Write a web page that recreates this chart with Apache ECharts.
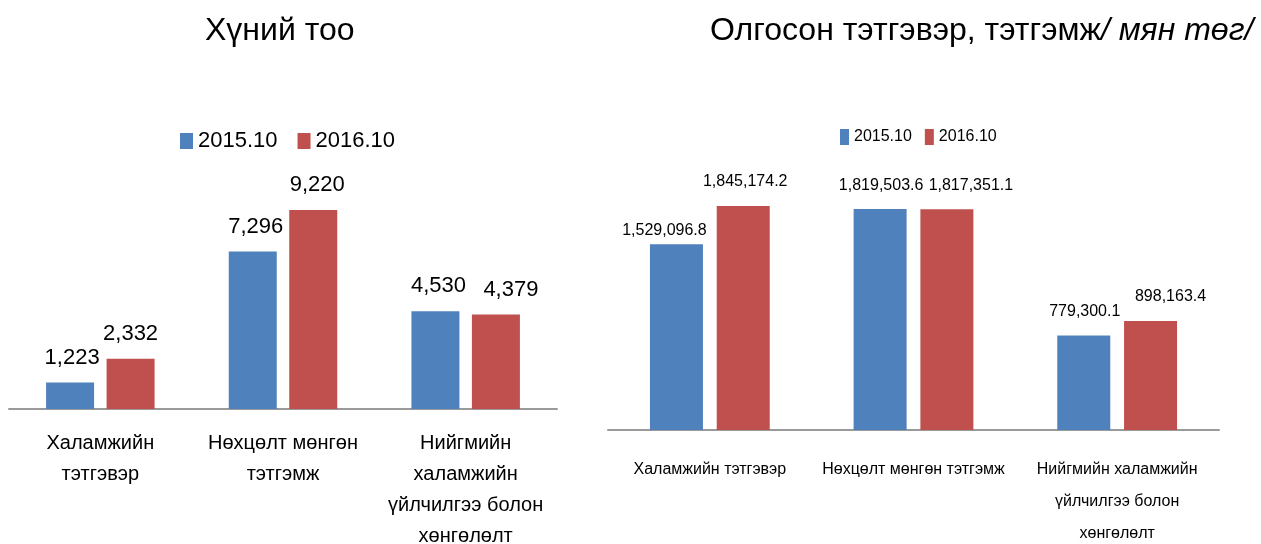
<!DOCTYPE html>
<html>
<head>
<meta charset="utf-8">
<script src="https://cdn.jsdelivr.net/npm/echarts@6/dist/echarts.min.js"></script>
<style>
  html, body {margin: 0; padding: 0; background: #fff;}
  #chart {width: 1261px; height: 544px;}
</style>
</head>
<body>
<div id="chart"></div>
<script>
// data
const seriesNames = ['2015.10', '2016.10']
const peopleCategories = ['Халамжийн\nтэтгэвэр', 'Нөхцөлт мөнгөн\nтэтгэмж', 'Нийгмийн\nхаламжийн\nүйлчилгээ болон\nхөнгөлөлт']
const people2015 = [1223, 7296, 4530]
const people2016 = [2332, 9220, 4379]
const moneyCategories = ['Халамжийн тэтгэвэр', 'Нөхцөлт мөнгөн тэтгэмж', 'Нийгмийн халамжийн\nүйлчилгээ болон\nхөнгөлөлт']
const money2015 = [1529096.8, 1819503.6, 779300.1]
const money2016 = [1845174.2, 1817351.1, 898163.4]

// label nudges (as placed in the original, to keep labels apart)
const people2015Shift = [[2, 0], [3, 0], [3, 0]]
const people2016Shift = [[0, 0], [4, 0], [15, 0]]
const money2015Shift = [[-12, 10], [1, 0], [1, 0]]
const money2016Shift = [[2, 0], [24, 0], [20, 0]]

const font = '"Liberation Sans", Arial, sans-serif'
const blue = '#4F81BD'
const red = '#C0504D'

const fmt = (v, digits) => {
  const parts = v.toFixed(digits).split('.')
  parts[0] = parts[0].replace(/\B(?=(\d{3})+(?!\d))/g, ',')
  return parts.join('.')
}

const barSeries = (name, values, shifts, color, idx, width, gap, fontSize, digits, distance) => ({
  name,
  type: 'bar',
  xAxisIndex: idx,
  yAxisIndex: idx,
  data: values.map((v, i) => ({value: v, label: {offset: shifts[i]}})),
  barWidth: width,
  barGap: gap,
  itemStyle: {color},
  label: {
    show: true,
    position: 'top',
    distance,
    color: '#000',
    fontFamily: font,
    fontSize,
    formatter: p => fmt(p.value, digits)
  }
})

const axisLine = {lineStyle: {color: '#9a9a9a', width: 2}}

const chart = echarts.init(document.getElementById('chart'))
chart.setOption({
  animation: false,
  title: [
    {
      text: 'Хүний тоо',
      left: 200,
      top: 10,
      textStyle: {fontFamily: font, fontSize: 32, fontWeight: 'normal', color: '#000'}
    },
    {
      text: 'Олгосон тэтгэвэр, тэтгэмж{i|/ мян төг/}',
      left: 705,
      top: 10,
      textStyle: {
        fontFamily: font, fontSize: 32, fontWeight: 'normal', color: '#000',
        rich: {i: {fontFamily: font, fontSize: 32, fontStyle: 'italic', color: '#000'}}
      }
    }
  ],
  legend: [
    {
      data: seriesNames,
      left: 175,
      top: 125,
      icon: 'rect',
      itemWidth: 13,
      itemHeight: 16,
      itemGap: 20,
      textStyle: {fontFamily: font, fontSize: 22, color: '#000'}
    },
    {
      data: seriesNames,
      left: 835,
      top: 124,
      icon: 'rect',
      itemWidth: 9,
      itemHeight: 16,
      itemGap: 13,
      textStyle: {fontFamily: font, fontSize: 16, color: '#000'}
    }
  ],
  grid: [
    {left: 9, top: 109, width: 548, height: 300, outerBoundsMode: 'none'},
    {left: 608, top: 130, width: 611, height: 300, outerBoundsMode: 'none'}
  ],
  xAxis: [
    {
      type: 'category',
      gridIndex: 0,
      data: peopleCategories,
      axisLine,
      axisTick: {show: false},
      axisLabel: {
        margin: 19,
        color: '#000',
        fontFamily: font,
        fontSize: 20,
        lineHeight: 31,
        interval: 0
      }
    },
    {
      type: 'category',
      gridIndex: 1,
      data: moneyCategories,
      axisLine,
      axisTick: {show: false},
      axisLabel: {
        margin: 24,
        color: '#000',
        fontFamily: font,
        fontSize: 16,
        lineHeight: 32,
        interval: 0
      }
    }
  ],
  yAxis: [
    {type: 'value', gridIndex: 0, min: 0, max: 13900, show: false, splitLine: {show: false}},
    {type: 'value', gridIndex: 1, min: 0, max: 2471000, show: false, splitLine: {show: false}}
  ],
  series: [
    barSeries(seriesNames[0], people2015, people2015Shift, blue, 0, 48, '26%', 22, 0, 14),
    barSeries(seriesNames[1], people2016, people2016Shift, red, 0, 48, '26%', 22, 0, 14),
    barSeries(seriesNames[0], money2015, money2015Shift, blue, 1, 53, '26%', 16, 1, 16),
    barSeries(seriesNames[1], money2016, money2016Shift, red, 1, 53, '26%', 16, 1, 16)
  ]
})
</script>
</body>
</html>
